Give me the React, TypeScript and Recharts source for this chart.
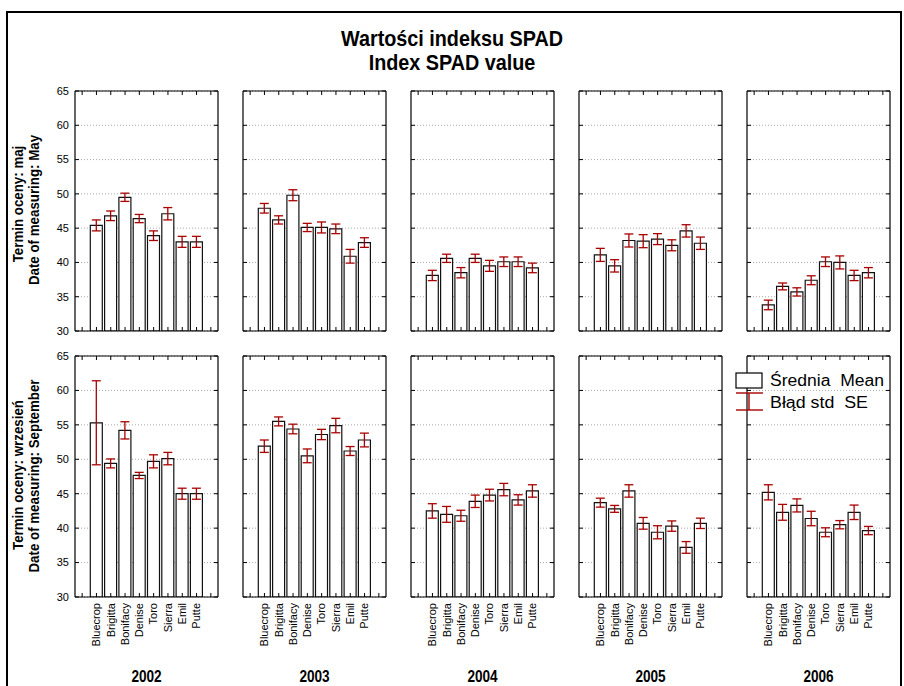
import React from "react"
import { BarChart, Bar, XAxis, YAxis, CartesianGrid, ErrorBar } from "recharts"

const VARIETIES = ["Bluecrop", "Brigitta", "Bonifacy", "Denise", "Toro", "Sierra", "Emil", "Putte"]
const YEARS = ["2002", "2003", "2004", "2005", "2006"]
const Y_TICKS = [30, 35, 40, 45, 50, 55, 60, 65]

// May (maj) – mean SPAD and standard error, one row per year
const MAY_MEAN = [
  [45.4, 46.8, 49.5, 46.4, 43.9, 47.1, 43.0, 43.0],
  [47.9, 46.2, 49.8, 45.1, 45.1, 44.9, 40.9, 42.9],
  [38.1, 40.6, 38.5, 40.6, 39.5, 40.1, 40.1, 39.2],
  [41.1, 39.5, 43.2, 43.1, 43.4, 42.5, 44.6, 42.8],
  [33.8, 36.5, 35.7, 37.4, 40.1, 40.0, 38.1, 38.5],
]
const MAY_SE = [
  [0.8, 0.7, 0.6, 0.6, 0.7, 0.9, 0.8, 0.8],
  [0.7, 0.6, 0.8, 0.6, 0.8, 0.7, 1.0, 0.7],
  [0.75, 0.6, 0.75, 0.6, 0.8, 0.7, 0.7, 0.7],
  [0.95, 0.9, 0.95, 0.95, 0.8, 0.8, 0.9, 0.9],
  [0.7, 0.5, 0.6, 0.65, 0.7, 0.95, 0.75, 0.75],
]

// September (wrzesień)
const SEP_MEAN = [
  [55.3, 49.4, 54.2, 47.65, 49.7, 50.1, 45.0, 45.0],
  [51.9, 55.5, 54.4, 50.5, 53.6, 54.9, 51.2, 52.8],
  [42.5, 42.0, 41.8, 43.9, 44.8, 45.6, 44.1, 45.4],
  [43.7, 42.8, 45.4, 40.7, 39.4, 40.3, 37.2, 40.7],
  [45.2, 42.3, 43.3, 41.4, 39.4, 40.5, 42.3, 39.65],
]
const SEP_SE = [
  [6.1, 0.65, 1.25, 0.45, 0.95, 0.9, 0.8, 0.8],
  [0.9, 0.65, 0.7, 1.0, 0.75, 1.05, 0.65, 1.0],
  [1.05, 1.15, 0.8, 0.9, 0.85, 0.9, 0.75, 0.9],
  [0.65, 0.5, 0.9, 0.85, 0.95, 0.75, 0.85, 0.75],
  [1.1, 1.15, 0.95, 1.05, 0.65, 0.6, 1.05, 0.6],
]

const PLOT_LEFT = [75, 243, 411, 579, 747]
const PLOT_W = 143
const ROW_TOP = [91, 356]
const ROW_H = [240, 241]
const AXW = 30
const TOP_M = 10
const TOPW = TOP_M + 2
const BOTW = 70

const ERR = "#a80000"
const TICK_FONT = "'Liberation Sans', Arial, sans-serif"

function buildData(mean: number[], se: number[]) {
  return [
    { name: "_l", mean: null, se: null },
    ...VARIETIES.map((v, i) => ({ name: v, mean: mean[i], se: se[i] })),
    { name: "_r", mean: null, se: null },
  ]
}

// bold condensed text (no narrow font installed, so squeeze Liberation Sans)
function Narrow({ x, y, size, sx = 0.86, rotate = false, children }: any) {
  return (
    <g transform={`translate(${x},${y})${rotate ? " rotate(-90)" : ""} scale(${sx},1)`}>
      <text x={0} y={0} textAnchor="middle" dominantBaseline="central" fontSize={size} fontWeight="bold" fontFamily={TICK_FONT} fill="#000">
        {children}
      </text>
    </g>
  )
}

function Panel({ mean, se, col, row }: { mean: number[]; se: number[]; col: number; row: number }) {
  const data = buildData(mean, se)
  const plotH = ROW_H[row]
  const showY = col === 0
  const showX = row === 1

  const bottomTick = (p: any) => {
    const name = p.payload.value as string
    return (
      <g>
        <line x1={p.x} y1={p.y} x2={p.x} y2={p.y - 4} stroke="#000" />
        {showX && !name.startsWith("_") && (
          <text
            x={p.x}
            y={p.y + 6}
            dy="0.35em"
            textAnchor="end"
            fontSize={11}
            fontFamily={TICK_FONT}
            fill="#000"
            transform={`rotate(-90, ${p.x}, ${p.y + 6})`}
          >
            {name}
          </text>
        )}
      </g>
    )
  }
  const topTick = (p: any) => <line x1={p.x} y1={p.y} x2={p.x} y2={p.y + 4} stroke="#000" />
  const leftTick = (p: any) => (
    <g>
      <line x1={p.x} y1={p.y} x2={p.x + 4} y2={p.y} stroke="#000" />
      {showY && (
        <text x={p.x - 6} y={p.y} dy="0.35em" textAnchor="end" fontSize={11} fontFamily={TICK_FONT} fill="#000">
          {p.payload.value}
        </text>
      )}
    </g>
  )
  const rightTick = (p: any) => <line x1={p.x} y1={p.y} x2={p.x - 4} y2={p.y} stroke="#000" />

  return (
    <div style={{ position: "absolute", left: PLOT_LEFT[col] - AXW, top: ROW_TOP[row] - TOPW }}>
      <BarChart
        width={AXW + PLOT_W + 4}
        height={TOPW + plotH + BOTW}
        data={data}
        margin={{ top: TOP_M, right: 2, bottom: 0, left: 0 }}
        barSize={12}
      >
        <CartesianGrid vertical={false} stroke="#aaa" strokeDasharray="1 2" />
        <XAxis
          dataKey="name"
          interval={0}
          height={BOTW}
          tickSize={0}
          tickMargin={0}
          tickLine={false}
          axisLine={{ stroke: "#000", strokeWidth: 1.2 }}
          tick={bottomTick}
        />
        <XAxis
          xAxisId="t"
          orientation="top"
          dataKey="name"
          interval={0}
          height={2}
          tickSize={0}
          tickMargin={0}
          tickLine={false}
          axisLine={{ stroke: "#000", strokeWidth: 1.2 }}
          tick={topTick}
        />
        <YAxis
          domain={[30, 65]}
          ticks={Y_TICKS}
          interval={0}
          width={AXW}
          tickSize={0}
          tickMargin={0}
          tickLine={false}
          axisLine={{ stroke: "#000", strokeWidth: 1.2 }}
          tick={leftTick}
          allowDataOverflow
        />
        <YAxis
          yAxisId="r"
          orientation="right"
          domain={[30, 65]}
          ticks={Y_TICKS}
          interval={0}
          width={2}
          tickSize={0}
          tickMargin={0}
          tickLine={false}
          axisLine={{ stroke: "#000", strokeWidth: 1.2 }}
          tick={rightTick}
          allowDataOverflow
        />
        <Bar dataKey="mean" fill="#fff" stroke="#111" strokeWidth={1.2} isAnimationActive={false}>
          <ErrorBar dataKey="se" width={4.5} stroke={ERR} strokeWidth={1.3} isAnimationActive={false} />
        </Bar>
      </BarChart>
    </div>
  )
}

export default function App() {
  return (
    <div style={{ position: "absolute", left: 0, top: 0, width: 904, height: 686, background: "#fff" }}>
      {YEARS.map((y, c) => (
        <React.Fragment key={y}>
          <Panel mean={MAY_MEAN[c]} se={MAY_SE[c]} col={c} row={0} />
          <Panel mean={SEP_MEAN[c]} se={SEP_SE[c]} col={c} row={1} />
        </React.Fragment>
      ))}
      <svg width={904} height={686} style={{ position: "absolute", left: 0, top: 0, pointerEvents: "none" }}>
        <path d="M7,686 L7,12 L901,12 L901,686" fill="none" stroke="#000" strokeWidth={2} />
        <Narrow x={452} y={38} size={22} sx={0.9}>Wartości indeksu SPAD</Narrow>
        <Narrow x={452} y={62} size={22} sx={0.9}>Index SPAD value</Narrow>
        <Narrow x={18} y={204} size={15.5} rotate>Termin oceny: maj</Narrow>
        <Narrow x={34} y={210} size={15.5} rotate>Date of measuring: May</Narrow>
        <Narrow x={18} y={475} size={15.5} rotate>Termin oceny: wrzesień</Narrow>
        <Narrow x={34} y={476} size={15.5} rotate>Date of measuring: September</Narrow>
        {YEARS.map((y, c) => (
          <Narrow key={y} x={PLOT_LEFT[c] + PLOT_W / 2} y={677} size={16} sx={0.85}>
            {y}
          </Narrow>
        ))}
        <rect x={736} y={373} width={26} height={15} fill="#fff" stroke="#000" strokeWidth={1.2} />
        <g stroke={ERR} strokeWidth={1.4}>
          <line x1={749} y1={393} x2={749} y2={410} />
          <line x1={736} y1={393} x2={763} y2={393} />
          <line x1={736} y1={410} x2={763} y2={410} />
        </g>
        <g fontSize={16} fontFamily={TICK_FONT} fill="#000">
          <text x={770} y={380} dominantBaseline="central" textLength={114} lengthAdjust="spacingAndGlyphs">
            {"Średnia\u00a0\u00a0Mean"}
          </text>
          <text x={770} y={402} dominantBaseline="central" textLength={98} lengthAdjust="spacingAndGlyphs">
            {"Błąd std\u00a0\u00a0SE"}
          </text>
        </g>
      </svg>
    </div>
  )
}
